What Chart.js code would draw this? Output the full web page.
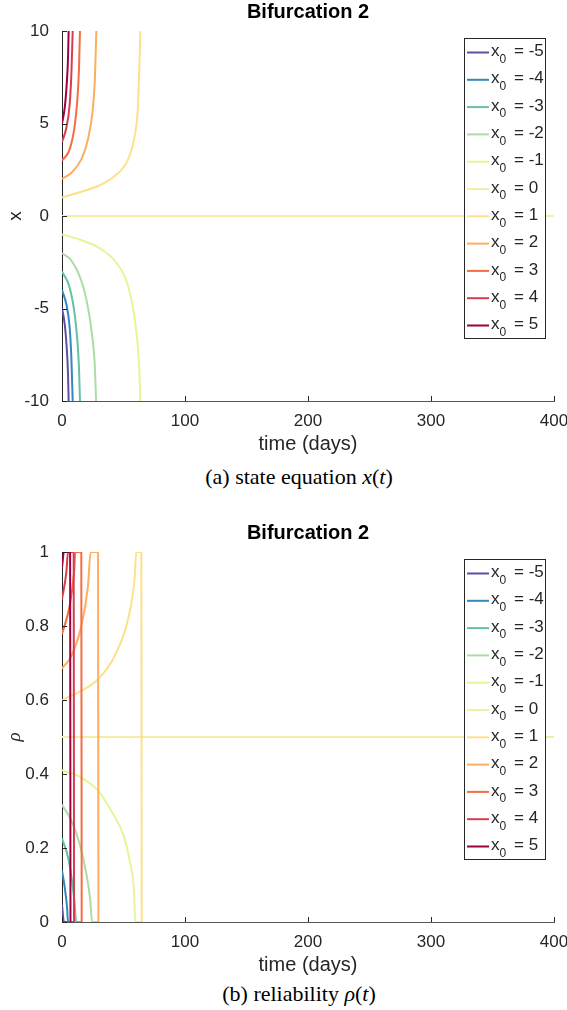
<!DOCTYPE html>
<html>
<head>
<meta charset="utf-8">
<script src="https://cdn.jsdelivr.net/npm/chart.js@4.4.1/dist/chart.umd.min.js"></script>
<style>
body { margin: 0; background: #fff; width: 567px; height: 1010px; position: relative; overflow: hidden; }
.box { position: absolute; left: 0; width: 567px; height: 460px; }
.caption { position: absolute; left: 0; width: 598px; text-align: center; font-family: "Liberation Serif", serif; font-size: 22px; color: #000; }
</style>
</head>
<body>
<div class="box" style="top:0"><canvas id="stateChart"></canvas></div>
<div class="caption" style="top:464px">(a) state equation <i>x</i>(<i>t</i>)</div>
<div class="box" style="top:521px"><canvas id="reliabilityChart"></canvas></div>
<div class="caption" style="top:981px">(b) reliability <i>ρ</i>(<i>t</i>)</div>

<script>
// initial conditions and colours (spectral map)
const x0List = [-5, -4, -3, -2, -1, 0, 1, 2, 3, 4, 5];
const lineColors = ["#5e4fa2", "#3288bd", "#66c2a5", "#abdda4", "#e6f598", "#f3efa6",
                    "#fee08b", "#fdae61", "#f46d43", "#d53e4f", "#9e0142"];

// state x(t)
const tStateM5 = [0, 2.2, 3.8, 4.9, 5.4];
const xStateM5 = [-5, -5.84, -7.1, -8.54, -10];
const tStateM4 = [0, 3.5, 6.2, 7.6, 8.7];
const xStateM4 = [-4, -4.76, -6.0, -7.64, -10];
const tStateM3 = [0, 6.2, 10.3, 12.5, 13.8, 14.6];
const xStateM3 = [-3, -3.86, -5.3, -6.74, -8.18, -10];
const tStateM2 = [0, 7.6, 15.7, 21.1, 24.7, 26.6, 27.7];
const xStateM2 = [-2, -2.41, -3.5, -4.94, -6.56, -8.0, -10];
const tStateM1 = [0, 13, 29.3, 42.8, 52.3, 57.7, 61.2, 62.9, 63.7];
const xStateM1 = [-1, -1.24, -1.69, -2.41, -3.5, -4.94, -6.74, -8.36, -10];
const tState0 = [0, 400];
const xState0 = [0, 0];
const tStateP1 = [0, 13, 29.3, 42.8, 53.7, 59, 61.8, 63.1, 63.7];
const xStateP1 = [1, 1.26, 1.62, 2.16, 3.06, 4.3, 5.95, 8.5, 10];
const tStateP2 = [0, 7.6, 15.7, 21.1, 24.7, 26.6, 27.4, 27.9];
const xStateP2 = [2, 2.34, 3.06, 4.14, 5.58, 7.2, 8.8, 10];
const tStateP3 = [0, 6.2, 10.3, 12.5, 13.8, 14.6];
const xStateP3 = [3, 3.6, 4.86, 6.3, 7.93, 10];
const tStateP4 = [0, 3.5, 6.2, 7.6, 8.7];
const xStateP4 = [4, 4.76, 6.0, 7.64, 10];
const tStateP5 = [0, 2.2, 3.8, 4.9, 5.4];
const xStateP5 = [5, 5.84, 7.1, 8.54, 10];

// reliability rho(t)
const tRelM5 = [0, 1.6, 6.9];
const rRelM5 = [0.046, 0, 0];
const tRelM4 = [0, 2.2, 4.1, 4.9, 9.8];
const rRelM4 = [0.139, 0.094, 0.04, 0, 0];
const tRelM3 = [0, 4.9, 8.1, 10.3, 11.4, 16];
const rRelM3 = [0.226, 0.175, 0.112, 0.049, 0, 0];
const tRelM2 = [0, 7.6, 14.4, 19.8, 23, 24.4, 29.6];
const rRelM2 = [0.317, 0.274, 0.211, 0.13, 0.058, 0, 0];
const tRelM1 = [0, 13, 29.3, 40.1, 49.6, 55, 58.5, 59.6, 64.8];
const rRelM1 = [0.41, 0.395, 0.355, 0.30, 0.238, 0.166, 0.085, 0, 0];
const tRel0 = [0, 400];
const rRel0 = [0.5, 0.5];
const tRelP1 = [0, 13, 29.3, 42.8, 53.7, 59, 60.4, 64.5, 64.8];
const rRelP1 = [0.6, 0.62, 0.656, 0.719, 0.818, 0.927, 1, 1, 0];
const tRelP2 = [0, 7.6, 15.7, 21.1, 23.3, 29.3, 29.6];
const rRelP2 = [0.685, 0.719, 0.8, 0.908, 1, 1, 0];
const tRelP3 = [0, 6.2, 9.8, 10.9, 15.7, 16];
const rRelP3 = [0.778, 0.854, 0.944, 1, 1, 0];
const tRelP4 = [0, 3.5, 4.9, 9.5, 9.8];
const rRelP4 = [0.872, 0.944, 1, 1, 0];
const tRelP5 = [0, 1.6, 6.6, 6.9];
const rRelP5 = [0.957, 1, 1, 0];

const stateTimes = [tStateM5, tStateM4, tStateM3, tStateM2, tStateM1, tState0, tStateP1, tStateP2, tStateP3, tStateP4, tStateP5];
const stateValues = [xStateM5, xStateM4, xStateM3, xStateM2, xStateM1, xState0, xStateP1, xStateP2, xStateP3, xStateP4, xStateP5];
const relTimes = [tRelM5, tRelM4, tRelM3, tRelM2, tRelM1, tRel0, tRelP1, tRelP2, tRelP3, tRelP4, tRelP5];
const relValues = [rRelM5, rRelM4, rRelM3, rRelM2, rRelM1, rRel0, rRelP1, rRelP2, rRelP3, rRelP4, rRelP5];

const xTicks = [0, 100, 200, 300, 400];

const axisColor = "#262626";
const sans = "'Liberation Sans', Arial, sans-serif";

function buildDatasets(times, values){
    return x0List.map((x0, i) => ({
        label: "x0 = " + x0,
        data: times[i].map((t, k) => ({ x: t, y: values[i][k] })),
        borderColor: lineColors[i],
        borderWidth: 2,
        pointRadius: 0,
        fill: false,
        cubicInterpolationMode: "monotone",
        order: -i
    }));
}

// title, inside tick marks and the boxed legend
const figureDecor = {
    id: "figureDecor",
    afterDraw(chart){
        const { ctx, chartArea, scales } = chart;
        ctx.save();

        // inside ticks
        ctx.strokeStyle = axisColor;
        ctx.lineWidth = 1;
        ctx.beginPath();
        scales.x.ticks.forEach(t => {
            const px = Math.round(scales.x.getPixelForValue(t.value)) + 0.5;
            ctx.moveTo(px, chartArea.bottom);
            ctx.lineTo(px, chartArea.bottom - 5);
        });
        scales.y.ticks.forEach(t => {
            const py = Math.round(scales.y.getPixelForValue(t.value)) + 0.5;
            ctx.moveTo(chartArea.left, py);
            ctx.lineTo(chartArea.left + 5, py);
        });
        ctx.stroke();

        // title
        ctx.fillStyle = "#000";
        ctx.font = "bold 20px " + sans;
        ctx.textAlign = "center";
        ctx.textBaseline = "middle";
        ctx.fillText("Bifurcation 2", (chartArea.left + chartArea.right) / 2, 12);

        // legend box
        const lx = 464, ly = 38, lw = 81, lh = 300;
        ctx.fillStyle = "#fff";
        ctx.fillRect(lx, ly, lw, lh);
        ctx.strokeStyle = axisColor;
        ctx.strokeRect(lx + 0.5, ly + 0.5, lw, lh);

        x0List.forEach((x0, i) => {
            const cy = ly + 14.5 + i * 27.3;
            ctx.strokeStyle = lineColors[i];
            ctx.lineWidth = 2;
            ctx.beginPath();
            ctx.moveTo(467, cy);
            ctx.lineTo(489, cy);
            ctx.stroke();

            ctx.fillStyle = axisColor;
            ctx.textAlign = "left";
            ctx.textBaseline = "middle";
            ctx.font = "17px " + sans;
            ctx.fillText("x", 491, cy - 1);
            const xw = ctx.measureText("x").width;
            ctx.font = "12px " + sans;
            ctx.fillText("0", 491 + xw, cy + 7);
            ctx.font = "17px " + sans;
            ctx.fillText("= " + x0, 514, cy - 1);
        });

        ctx.restore();
    }
};

function makeOptions(yMin, yMax, yStep, yTitle, yItalic){
    return {
        responsive: true,
        maintainAspectRatio: false,
        animation: false,
        layout: {
            padding: { top: 31, right: 13, left: 0, bottom: 0 }
        },
        plugins: {
            legend: { display: false },
            title: { display: false },
            tooltip: { enabled: false }
        },
        scales: {
            x: {
                type: "linear",
                min: 0,
                max: 400,
                afterBuildTicks: scale => { scale.ticks = xTicks.map(v => ({ value: v })); },
                afterFit: scale => {
                    scale.height = 59;
                    scale.paddingLeft = 0;
                    scale.paddingRight = 0;
                },
                grid: { display: false },
                border: { display: true, color: "#555", width: 1 },
                ticks: {
                    color: axisColor,
                    padding: 2,
                    font: { family: sans, size: 17 }
                },
                title: {
                    display: true,
                    text: "time (days)",
                    color: axisColor,
                    padding: { top: 3 },
                    font: { family: sans, size: 20 }
                }
            },
            y: {
                min: yMin,
                max: yMax,
                afterFit: scale => { scale.width = 62; },
                grid: { display: false },
                border: { display: true, color: axisColor, width: 1 },
                ticks: {
                    stepSize: yStep,
                    color: axisColor,
                    padding: 5,
                    font: { family: sans, size: 17 },
                    callback: v => String(Number(v.toFixed(1)))
                },
                title: {
                    display: true,
                    text: yTitle,
                    color: axisColor,
                    padding: { bottom: 6 },
                    font: { family: yItalic ? "'Liberation Serif', serif" : sans, size: 19, style: yItalic ? "italic" : "normal" }
                }
            }
        }
    };
}

new Chart(document.getElementById("stateChart"), {
    type: "line",
    data: { datasets: buildDatasets(stateTimes, stateValues) },
    options: makeOptions(-10, 10, 5, "x", false),
    plugins: [figureDecor]
});

new Chart(document.getElementById("reliabilityChart"), {
    type: "line",
    data: { datasets: buildDatasets(relTimes, relValues) },
    options: makeOptions(0, 1, 0.2, "ρ", true),
    plugins: [figureDecor]
});
</script>
</body>
</html>
